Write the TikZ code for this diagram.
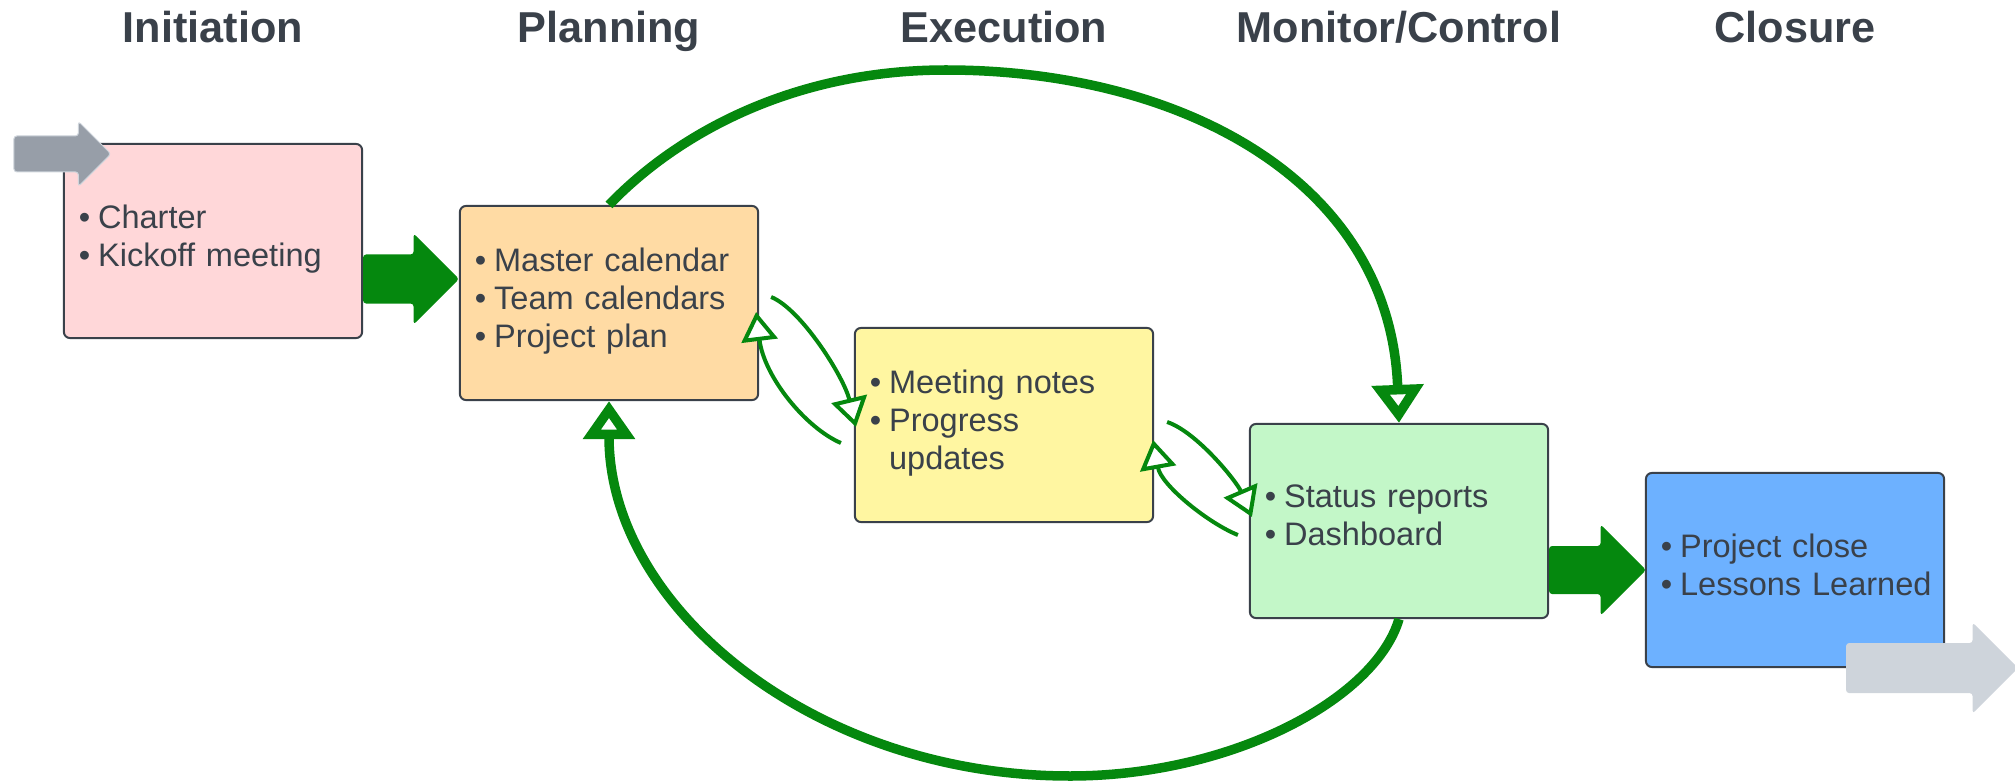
\documentclass[tikz,border=0pt]{standalone}
\usepackage{fontspec}
\setmainfont{Liberation Sans}
\usetikzlibrary{calc,arrows.meta}

\definecolor{ink}{HTML}{3A414A}
\definecolor{initfill}{HTML}{FFD7D9}
\definecolor{planfill}{HTML}{FFDBA4}
\definecolor{execfill}{HTML}{FFF6A1}
\definecolor{monfill}{HTML}{C3F7C8}
\definecolor{closefill}{HTML}{6DB1FF}
\definecolor{flow}{HTML}{05880E}
\definecolor{graydark}{HTML}{979EA8}
\definecolor{graylight}{HTML}{CED4DB}

\newcommand{\itm}{\textbullet\kern0.078cm}
% tail point, length, shaft width, head width
\newcommand{\blockarrow}[5]{%
  \fill[#1] (#2) ++(0,{-#4/2}) -- ++({#3-#5/2},0) -- ++(0,{-(#5-#4)/2})
    -- ++({#5/2},{#5/2}) -- ++({-#5/2},{#5/2}) -- ++(0,{-(#5-#4)/2})
    -- ++({-(#3-#5/2)},0) -- cycle;}

\tikzset{
  phase/.style={font=\fontsize{12.3}{14}\selectfont\bfseries, text=ink, inner sep=0pt, anchor=base},
  box/.style={draw=ink, line width=0.02cm, rounded corners=0.06cm, text width=2.68cm,
    inner xsep=0.15cm, minimum height=1.94cm, align=left, text=ink,
    font=\fontsize{9.25}{10.8}\selectfont, execute at end node=\strut},
  cycleline/.style={draw=flow, line width=0.095cm, -{Triangle[length=0.38cm, width=0.5cm, fill=white]}},
  handoff/.style={draw=flow, line width=0.04cm, -{Triangle[length=0.29cm, width=0.36cm, fill=white]}},
  blockfill/.style={fill=flow, rounded corners=0.03cm},
  startfill/.style={fill=graydark, draw=graylight, line width=0.01cm, rounded corners=0.03cm},
  endfill/.style={fill=graylight, rounded corners=0.03cm}
}

\begin{document}
\begin{tikzpicture}[x=0.01cm, y=-0.01cm]
    \useasboundingbox (0,0) rectangle (2015,782);

    \node[box, fill=initfill] (init) at (213,241) {\itm Charter\\\itm Kickoff meeting};
    \node[box, fill=planfill] (plan) at (609,303) {\itm Master calendar\\\itm Team calendars\\\itm Project plan};
    \node[box, fill=execfill] (exec) at (1004,425) {\itm Meeting notes\\\itm Progress\\\hphantom{\itm}updates};
    \node[box, fill=monfill] (mon) at (1399,521) {\itm Status reports\\\itm Dashboard};
    \node[box, fill=closefill] (close) at (1795,570) {\itm Project close\\\itm Lessons~Learned};

    \node[phase] (hinit) at (init.north |- 0,43) {Initiation};
    \node[phase] (hplan) at (plan.north |- 0,43) {Planning};
    \node[phase] (hexec) at (exec.north |- 0,43) {Execution};
    \node[phase] (hmon) at (mon.north |- 0,43) {Monitor/Control};
    \node[phase] (hclose) at (close.north |- 0,43) {Closure};

    % big feedback loop
    \draw[cycleline] (plan.north) .. controls (675,136) and (790,70) .. (946,70)
        .. controls (1180,70) and (1390,180) .. (mon.north);
    \draw[cycleline] (mon.south) .. controls (1375,700) and (1230,776) .. (1070,776)
        .. controls (815,776) and (609,608) .. (plan.south);

    % hand-offs between neighbouring phases
    \draw[handoff] ($(plan.east)+(12,-6)$) .. controls +(30,12) and +(-12,-50) .. ($(exec.west)+(2,2)$);
    \draw[handoff] ($(exec.west)+(-13,18)$) .. controls +(-35,-15) and +(8,65) .. ($(plan.east)+(-3,9)$);
    \draw[handoff] ($(exec.east)+(13,-3)$) .. controls +(30,10) and +(-15,-35) .. ($(mon.west)+(3,-4)$);
    \draw[handoff] ($(mon.west)+(-11,14)$) .. controls +(-30,-12) and +(8,45) .. ($(exec.east)+(-1,15)$);

    \blockarrow{blockfill}{$(init.east)+(0,38)$}{96}{49}{91}
    \blockarrow{blockfill}{mon.east |- close.west}{97}{48}{91}

    \blockarrow{startfill}{$(init.north west)+(-49,11)$}{97}{36}{65}
    \blockarrow{endfill}{$(close.south east)+(-99,0)$}{172}{50}{91}
\end{tikzpicture}
\end{document}
